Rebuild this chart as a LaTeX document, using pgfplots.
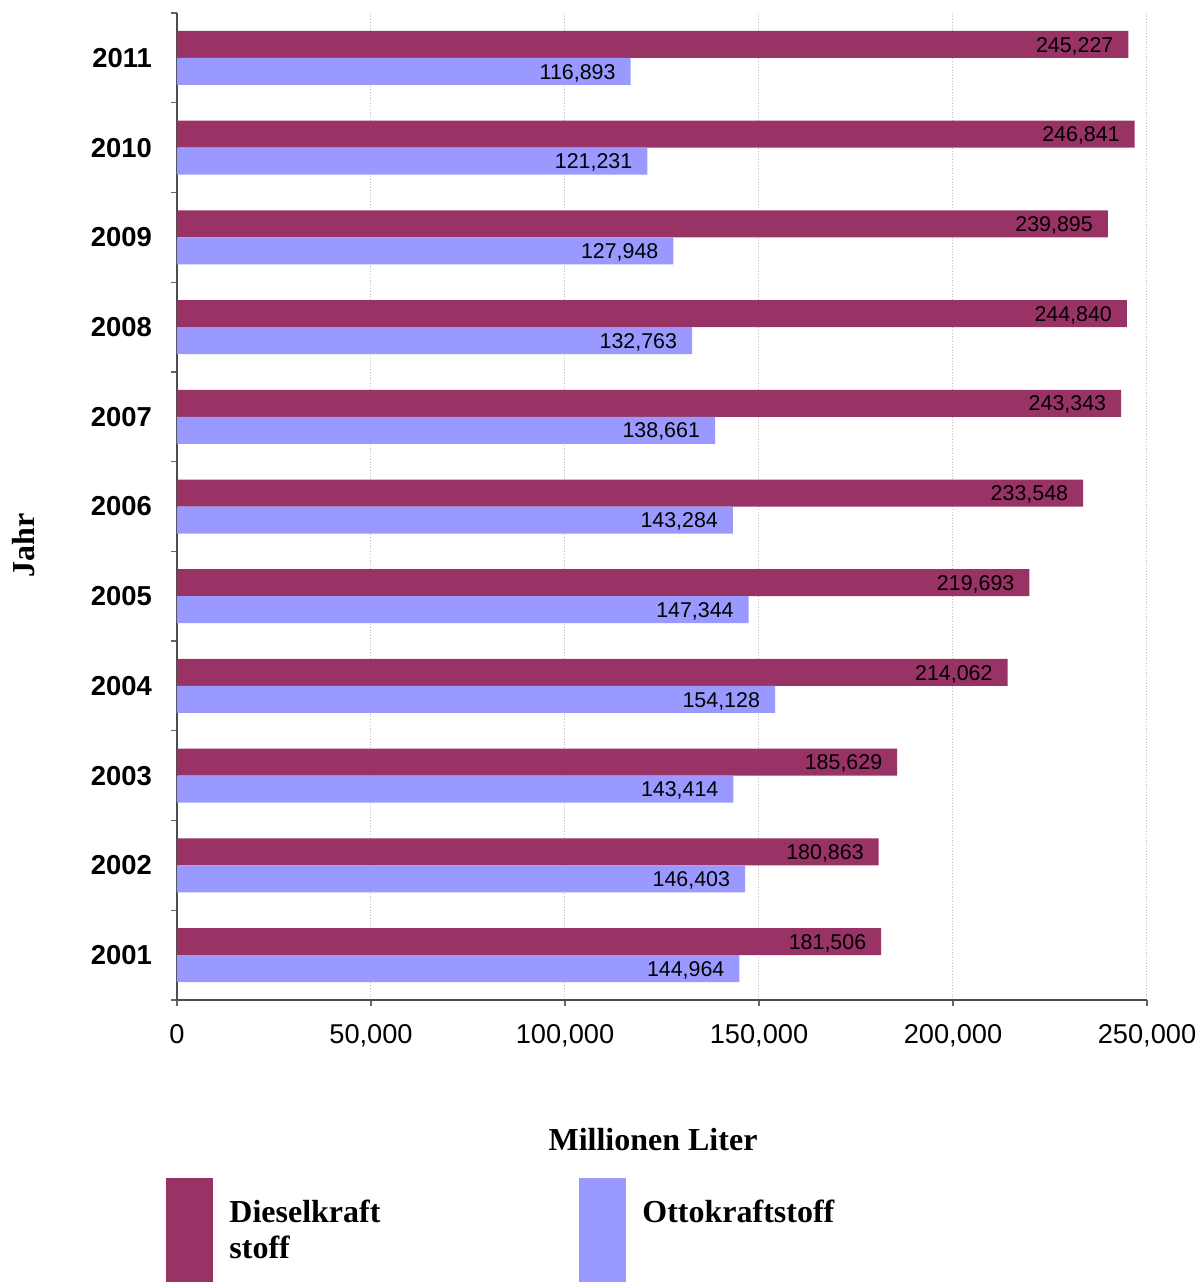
\documentclass[border=0pt]{standalone}
\usepackage{pgfplots}
\pgfplotsset{compat=1.18}
\usepackage{fontspec}
\setmainfont{Liberation Sans}
\newfontfamily\seriffont{Liberation Serif}
\definecolor{diesel}{HTML}{993366}
\definecolor{otto}{HTML}{9999FF}
\begin{document}
\begin{tikzpicture}
\path[use as bounding box] (-88.5pt,-141pt) rectangle (510.5pt,500pt);
\begin{axis}[
  at={(0pt,0pt)}, anchor=south west,
  scale only axis, width=485pt, height=493.5pt,
  xbar, bar width=13.5pt,
  xmin=0, xmax=250000, ymin=0.5, ymax=11.5,
  axis x line*=bottom, axis y line*=left,
  axis line style={black!70, line width=0.7pt},
  xtick={0,50000,100000,150000,200000,250000},
  scaled x ticks=false,
  ytick={1,2,3,4,5,6,7,8,9,10,11},
  yticklabels={2001,2002,2003,2004,2005,2006,2007,2008,2009,2010,2011},
  minor ytick={0.5,1.5,2.5,3.5,4.5,5.5,6.5,7.5,8.5,9.5,10.5,11.5},
  tick align=outside,
  major tick length=3pt, minor tick length=3pt,
  every major y tick/.append style={draw=none},
  every minor y tick/.append style={black!60, line width=0.6pt},
  every major x tick/.append style={black!60, line width=0.6pt},
  xmajorgrids, major grid style={densely dotted, black!25, line width=0.5pt},
  /pgf/number format/.cd, fixed, precision=0, 1000 sep={,}, assume math mode=true,
  /pgfplots/.cd,
  xticklabel style={font=\fontsize{13.6}{16}\selectfont, yshift=-5.5pt},
  yticklabel style={font=\fontsize{13.7}{16}\selectfont\bfseries, xshift=-6pt},
  point meta=x,
  nodes near coords,
  every node near coord/.append style={anchor=east, xshift=-4pt, yshift=-0.8pt, font=\fontsize{10.7}{13}\selectfont, text=black},
]
\addplot[fill=diesel, draw=none, bar shift=6.75pt] coordinates {
  (181506,1) (180863,2) (185629,3) (214062,4) (219693,5) (233548,6)
  (243343,7) (244840,8) (239895,9) (246841,10) (245227,11)};
\addplot[fill=otto, draw=none, bar shift=-6.75pt] coordinates {
  (144964,1) (146403,2) (143414,3) (154128,4) (147344,5) (143284,6)
  (138661,7) (132763,8) (127948,9) (121231,10) (116893,11)};
\end{axis}
% axis titles
\node[font=\seriffont\bfseries\fontsize{16}{19}\selectfont, rotate=90] at (-76.5pt,227.5pt) {Jahr};
\node[font=\seriffont\bfseries\fontsize{16}{19}\selectfont] at (238pt,-70pt) {Millionen Liter};
% legend
\fill[diesel] (-5.5pt,-89pt) rectangle (18pt,-141pt);
\fill[otto] (201pt,-89pt) rectangle (224.5pt,-141pt);
\node[font=\seriffont\bfseries\fontsize{16}{19}\selectfont, anchor=base west, inner sep=0pt] at (26pt,-111pt) {Dieselkraft};
\node[font=\seriffont\bfseries\fontsize{16}{19}\selectfont, anchor=base west, inner sep=0pt] at (26pt,-129pt) {stoff};
\node[font=\seriffont\bfseries\fontsize{16}{19}\selectfont, anchor=base west, inner sep=0pt] at (232.5pt,-111pt) {Ottokraftstoff};
\end{tikzpicture}
\end{document}
